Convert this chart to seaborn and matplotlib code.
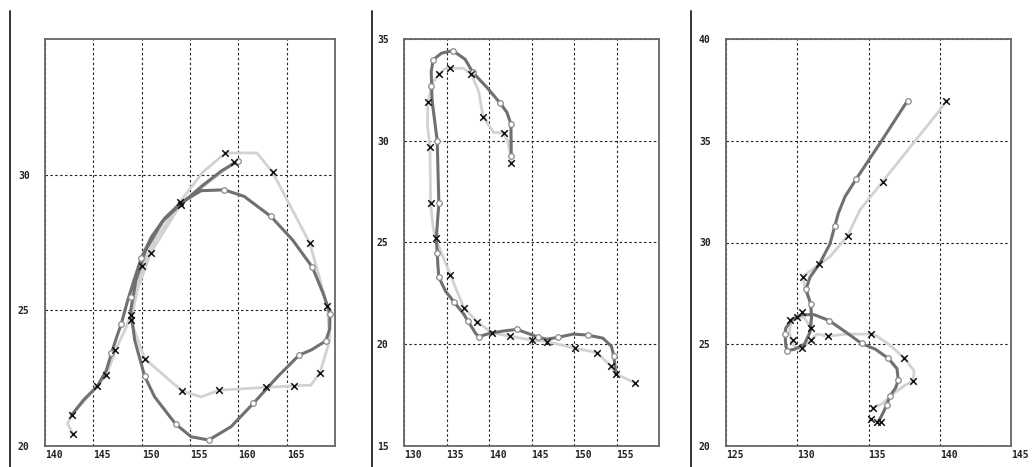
import matplotlib
matplotlib.use("Agg")
import matplotlib.pyplot as plt
import seaborn as sns
from matplotlib.lines import Line2D

# ---- panel 1 (loop east of Japan) ----
p1_dark_lon = [142.75, 144.0, 145.43, 146.36, 146.87, 147.4, 147.9, 148.5, 149.2, 149.97, 151.0, 152.4, 154.0,
               156.15, 158.56, 160.6, 163.37, 165.6, 167.66, 168.8, 169.48, 169.45, 169.04, 167.6, 166.29,
               164.05, 161.55, 159.24, 156.94, 155.12, 153.51, 151.34, 150.31, 149.28, 148.87, 149.4, 150.4,
               152.2, 154.0, 156.3, 158.3, 159.93]
p1_dark_lat = [21.14, 21.7, 22.21, 22.8, 23.41, 24.0, 24.51, 25.3, 26.1, 26.94, 27.7, 28.4, 28.95,
               29.41, 29.44, 29.2, 28.46, 27.6, 26.59, 25.6, 24.88, 24.3, 23.87, 23.55, 23.35,
               22.55, 21.57, 20.71, 20.22, 20.34, 20.81, 21.81, 22.57, 23.9, 25.0, 26.1, 27.2,
               28.3, 28.9, 29.6, 30.15, 30.49]
p1_dot_lon = [146.87, 147.9, 148.87, 149.97, 158.56, 163.37, 167.66, 169.48, 169.04, 166.29, 161.55,
              156.94, 153.51, 150.31, 159.93]
p1_dot_lat = [23.41, 24.51, 25.49, 26.94, 29.44, 28.46, 26.59, 24.88, 23.87, 23.35, 21.57,
              20.22, 20.81, 22.57, 30.49]
p1_obs_lon = [142.92, 142.34, 142.75, 145.43, 146.36, 147.29, 148.3, 148.87, 150.07, 151.4, 153.92,
              156.32, 158.66, 161.92, 163.54, 165.09, 167.39, 169.21, 169.45, 168.45, 167.49, 165.77,
              162.85, 158.04, 156.15, 154.16, 150.31, 148.87, 149.6, 150.93, 154.02, 159.52]
p1_obs_lat = [20.43, 20.83, 21.14, 22.21, 22.61, 23.53, 24.3, 24.82, 26.63, 27.6, 28.98,
              30.09, 30.8, 30.8, 30.09, 29.04, 27.48, 25.15, 23.9, 22.7, 22.24, 22.22,
              22.16, 22.06, 21.81, 22.03, 23.22, 24.63, 25.8, 27.11, 28.9, 30.45]
p1_x_lon = [142.92, 142.75, 145.43, 146.36, 147.29, 148.87, 148.87, 150.07, 150.93, 153.92, 154.02,
            158.66, 159.52, 163.54, 167.39, 169.21, 168.45, 165.77, 162.85, 158.04, 154.16, 150.31]
p1_x_lat = [20.43, 21.14, 22.21, 22.61, 23.53, 24.63, 24.82, 26.63, 27.11, 28.98, 28.9,
            30.8, 30.45, 30.09, 27.48, 25.15, 22.7, 22.22, 22.16, 22.06, 22.03, 23.22]

# ---- panel 2 (westward then recurving) ----
p2_dark_lon = [142.62, 142.6, 142.58, 142.1, 141.33, 139.8, 138.09, 137.2, 135.74, 134.4, 133.44, 133.2,
               133.3, 133.6, 133.91, 134.0, 134.1, 133.9, 133.8, 133.91, 134.0, 134.1, 134.9, 135.86,
               137.0, 137.5, 138.4, 138.79, 140.2, 141.7, 143.28, 144.8, 145.82, 146.8, 148.16, 149.9,
               151.6, 153.4, 154.4, 154.69, 154.92]
p2_dark_lat = [29.27, 30.0, 30.82, 31.4, 31.84, 32.6, 33.36, 34.0, 34.43, 34.3, 33.98, 33.4,
               32.0, 31.0, 30.0, 28.5, 26.93, 25.8, 25.2, 24.47, 23.8, 23.29, 22.6, 22.09,
               21.5, 21.16, 20.55, 20.37, 20.55, 20.65, 20.73, 20.5, 20.34, 20.25, 20.34, 20.5,
               20.45, 20.3, 19.9, 19.42, 18.54]
p2_dot_lon = [142.62, 142.58, 141.33, 138.09, 135.74, 133.44, 133.2, 133.91, 134.1, 133.91, 134.1,
              135.86, 137.5, 138.79, 143.28, 145.82, 148.16, 151.6, 154.69]
p2_dot_lat = [29.27, 30.82, 31.84, 33.36, 34.43, 33.98, 32.7, 30.0, 26.93, 24.47, 23.29,
              22.09, 21.16, 20.37, 20.73, 20.34, 20.34, 20.45, 19.42]
p2_obs_lon = [142.62, 142.5, 142.2, 141.72, 140.55, 139.3, 138.8, 137.93, 137.0, 135.47, 134.9, 134.1,
              133.3, 132.81, 132.75, 133.05, 133.1, 133.13, 133.4, 133.71, 135.47, 137.03, 138.59,
              140.35, 142.42, 145.04, 146.88, 150.12, 152.73, 154.3, 154.92, 157.15]
p2_obs_lat = [28.91, 29.35, 30.0, 30.38, 30.41, 31.18, 32.4, 33.28, 33.56, 33.56, 33.56, 33.28,
              32.79, 31.89, 30.8, 29.68, 28.0, 26.96, 25.8, 25.2, 23.4, 21.8, 21.11,
              20.56, 20.4, 20.2, 20.13, 19.8, 19.59, 18.93, 18.54, 18.11]
p2_x_lon = [142.62, 141.72, 139.3, 137.93, 135.47, 134.1, 132.81, 133.05, 133.13, 133.71, 135.47,
            137.03, 138.59, 140.35, 142.42, 145.04, 146.88, 150.12, 152.73, 154.3, 154.92, 157.15]
p2_x_lat = [28.91, 30.38, 31.18, 33.28, 33.56, 33.28, 31.89, 29.68, 26.96, 25.2, 23.4,
            21.8, 21.11, 20.56, 20.4, 20.2, 20.13, 19.8, 19.59, 18.93, 18.54, 18.11]

# ---- panel 3 (small loop then northeast) ----
p3_dark_lon = [135.7, 136.0, 136.27, 136.51, 136.9, 137.09, 137.0, 136.4, 135.5, 134.51, 133.4, 132.25,
               131.2, 130.3, 129.6, 129.2, 129.14, 129.2, 129.3, 129.8, 130.5, 130.9, 131.0, 130.94,
               130.61, 130.9, 131.55, 132.29, 132.64, 132.88, 133.35, 134.12, 135.8, 137.74]
p3_dark_lat = [21.2, 21.6, 22.0, 22.46, 22.85, 23.24, 23.8, 24.3, 24.75, 25.04, 25.6, 26.16,
               26.45, 26.45, 26.2, 25.8, 25.5, 24.9, 24.69, 24.75, 25.0, 25.6, 26.3, 27.0,
               27.7, 28.3, 28.94, 29.92, 30.82, 31.43, 32.25, 33.1, 34.87, 36.97]
p3_dot_lon = [136.27, 136.51, 137.09, 136.4, 134.51, 132.25, 129.14, 129.3, 130.94, 130.61,
              132.64, 134.12, 137.74]
p3_dot_lat = [22.0, 22.46, 23.24, 24.3, 25.04, 26.16, 25.5, 24.69, 27.0, 27.7,
              30.82, 33.1, 36.97]
p3_obs_lon = [135.29, 136.0, 136.8, 137.6, 138.14, 138.2, 137.48, 136.6, 135.6, 135.15, 133.5, 132.13,
              131.4, 130.94, 130.31, 129.9, 129.6, 129.45, 129.55, 129.95, 130.5, 130.94, 131.0,
              130.94, 130.6, 130.38, 131.1, 132.29, 133.53, 134.4, 135.99, 138.13, 140.0, 140.47]
p3_obs_lat = [21.85, 22.1, 22.6, 23.0, 23.21, 23.7, 24.34, 24.9, 25.4, 25.5, 25.5, 25.4,
              25.5, 25.21, 24.8, 24.8, 25.1, 25.6, 26.1, 26.36, 26.3, 25.8, 26.6,
              27.0, 27.6, 28.32, 28.7, 29.3, 30.32, 31.6, 32.99, 34.87, 36.5, 36.97]
p3_x_lon = [135.29, 135.15, 135.62, 135.86, 138.14, 137.48, 135.15, 132.13, 130.94, 130.94, 130.31,
            129.68, 129.49, 129.95, 130.31, 130.38, 131.55, 133.53, 135.99, 140.47]
p3_x_lat = [21.85, 21.31, 21.2, 21.2, 23.21, 24.34, 25.5, 25.4, 25.21, 25.8, 24.8,
            25.21, 26.19, 26.36, 26.6, 28.32, 28.93, 30.32, 32.99, 36.97]

panels = [
    dict(dark=(p1_dark_lon, p1_dark_lat), dots=(p1_dot_lon, p1_dot_lat),
         obs=(p1_obs_lon, p1_obs_lat), xs=(p1_x_lon, p1_x_lat),
         xlim=(140, 170), ylim=(20, 35), xticks=[140, 145, 150, 155, 160, 165], yticks=[20, 25, 30],
         pos=[45, 290]),
    dict(dark=(p2_dark_lon, p2_dark_lat), dots=(p2_dot_lon, p2_dot_lat),
         obs=(p2_obs_lon, p2_obs_lat), xs=(p2_x_lon, p2_x_lat),
         xlim=(130, 160), ylim=(15, 35), xticks=[130, 135, 140, 145, 150, 155], yticks=[15, 20, 25, 30, 35],
         pos=[404, 255]),
    dict(dark=(p3_dark_lon, p3_dark_lat), dots=(p3_dot_lon, p3_dot_lat),
         obs=(p3_obs_lon, p3_obs_lat), xs=(p3_x_lon, p3_x_lat),
         xlim=(125, 145), ylim=(20, 40), xticks=[125, 130, 135, 140, 145], yticks=[20, 25, 30, 35, 40],
         pos=[726, 285]),
]

sns.set_style("white")
W, H = 1034, 467
fig = plt.figure(figsize=(W / 100, H / 100), dpi=100)

for p in panels:
    left, width = p["pos"]
    ax = fig.add_axes([left / W, 21 / H, width / W, 407 / H])

    sns.lineplot(x=p["obs"][0], y=p["obs"][1], sort=False, estimator=None, ax=ax,
                 color="#d2d2d2", lw=2.0, zorder=2)
    sns.lineplot(x=p["dark"][0], y=p["dark"][1], sort=False, estimator=None, ax=ax,
                 color="#707070", lw=2.2, zorder=3)
    sns.scatterplot(x=p["dots"][0], y=p["dots"][1], ax=ax, marker="o", s=16,
                    facecolor="white", edgecolor="#8a8a8a", linewidth=0.9, zorder=4)
    sns.scatterplot(x=p["xs"][0], y=p["xs"][1], ax=ax, marker="x", s=22,
                    color="#111111", linewidth=1.1, zorder=5)

    ax.set_xlim(*p["xlim"])
    ax.set_ylim(*p["ylim"])
    ax.set_xticks(p["xticks"])
    ax.set_yticks(p["yticks"])
    ax.set_xticklabels([str(t) for t in p["xticks"]], ha="left")
    ax.set_yticklabels([str(t) for t in p["yticks"]])
    for lab in ax.get_xticklabels() + ax.get_yticklabels():
        lab.set_fontfamily("DejaVu Sans Mono")
        lab.set_fontweight("bold")
        lab.set_fontsize(7)
        lab.set_color("#222222")
    ax.tick_params(axis="x", length=0, pad=3)
    ax.tick_params(axis="y", length=0, pad=11)
    ax.grid(True, color="#222222", linestyle=(0, (2.2, 2.2)), linewidth=0.8)
    ax.set_axisbelow(True)
    for sp in ax.spines.values():
        sp.set_visible(True)
        sp.set_color("#666666")
        sp.set_linewidth(1.3)
    ax.set_xlabel("")
    ax.set_ylabel("")

# panel separators
for xpix in [10, 372, 691]:
    fig.add_artist(Line2D([xpix / W, xpix / W], [0, 1 - 11 / H], transform=fig.transFigure,
                          color="#333333", lw=1.4))

fig.savefig("out.png", dpi=100)
